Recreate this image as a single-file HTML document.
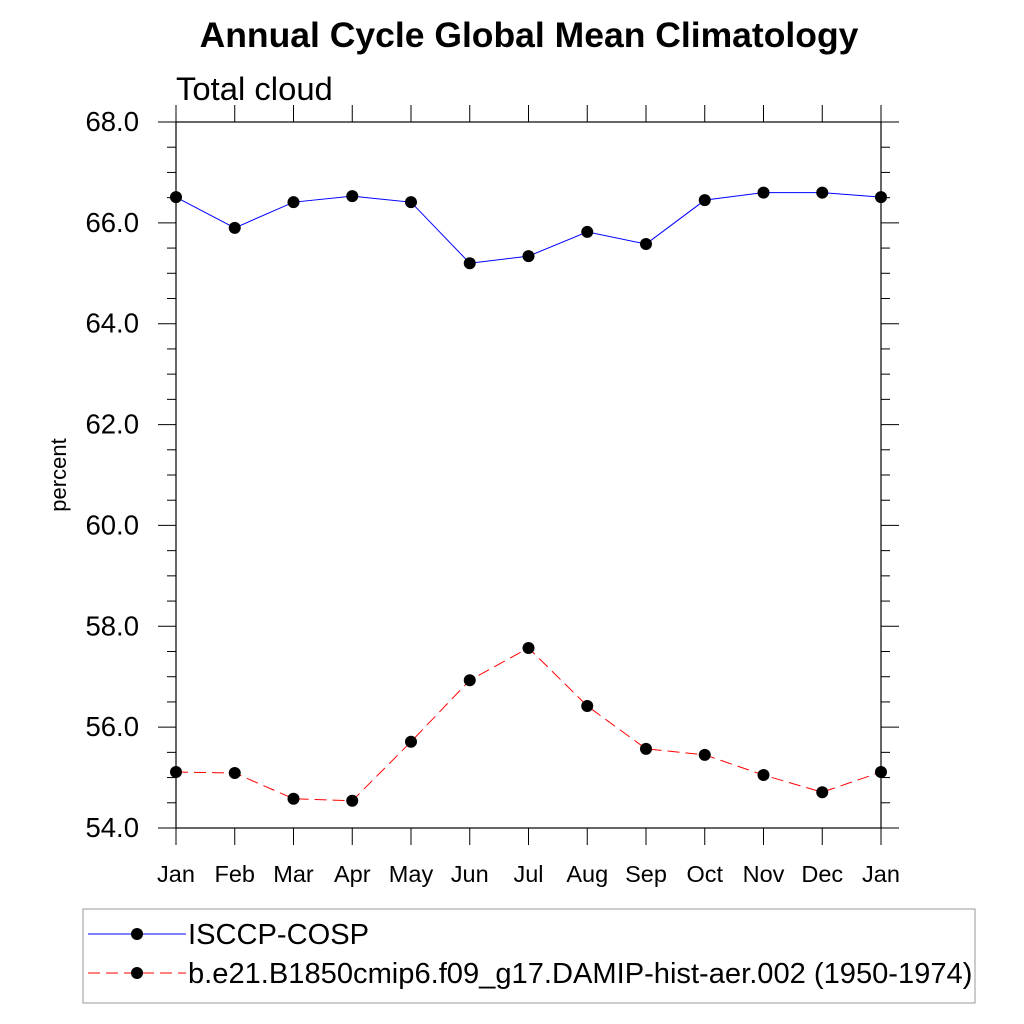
<!DOCTYPE html>
<html><head><meta charset="utf-8"><style>
body{margin:0;background:#fff;}
svg{display:block;font-family:"Liberation Sans",sans-serif;}
</style></head><body>
<svg id="chart" width="1024" height="1024" viewBox="0 0 1024 1024">
<text x="529" y="47" text-anchor="middle" font-size="35.5" font-weight="bold">Annual Cycle Global Mean Climatology</text>
<text x="176" y="100" font-size="32.8">Total cloud</text>
<text transform="translate(66,475) rotate(-90)" text-anchor="middle" font-size="22">percent</text>
<g id="axes"></g>
<g id="series"></g>
<rect x="83" y="909" width="892" height="94" fill="none" stroke="#999" stroke-width="1"/>
<g>
<line x1="88" y1="934" x2="186" y2="934" stroke="#00f" stroke-width="1"/>
<circle cx="137" cy="934" r="6" fill="#000"/>
<text x="188" y="944" font-size="29.1">ISCCP-COSP</text>
</g>
<g>
<line x1="88" y1="973" x2="186" y2="973" stroke="#f00" stroke-width="1" stroke-dasharray="12,6"/>
<circle cx="137" cy="973" r="6" fill="#000"/>
<text x="188" y="983" font-size="29.1">b.e21.B1850cmip6.f09_g17.DAMIP-hist-aer.002 (1950-1974)</text>
</g>
</svg>
<script>
const months = ["Jan","Feb","Mar","Apr","May","Jun","Jul","Aug","Sep","Oct","Nov","Dec","Jan"];
const isccp = [66.51,65.9,66.41,66.53,66.41,65.2,65.34,65.82,65.58,66.45,66.6,66.6,66.51];
const model = [55.11,55.09,54.58,54.54,55.71,56.93,57.57,56.42,55.57,55.45,55.05,54.71,55.11];
const yTicks = [54,56,58,60,62,64,66,68];
const NS="http://www.w3.org/2000/svg";
const L=176,R=881,T=122,B=828,ymin=54,ymax=68;
function xs(i){return L+(R-L)*i/(months.length-1);}
function ys(v){return B-(v-ymin)/(ymax-ymin)*(B-T);}
function mk(tag,attrs,parent){const e=document.createElementNS(NS,tag);for(const k in attrs)e.setAttribute(k,attrs[k]);parent.appendChild(e);return e;}
const ax=document.getElementById('axes');
const frame=mk('rect',{x:L,y:T,width:R-L,height:B-T,fill:'none',stroke:'#000','stroke-width':1.2},ax);


for(let v=ymin;v<=ymax+1e-9;v+=0.5){
  const y=ys(v);const major=Math.abs(v-Math.round(v/2)*2)<1e-6;const len=major?18:9;
  mk('line',{x1:L-len,y1:y,x2:L,y2:y,stroke:'#000','stroke-width':1},ax);
  mk('line',{x1:R,y1:y,x2:R+len,y2:y,stroke:'#000','stroke-width':1},ax);
}
yTicks.forEach(v=>{
  const t=mk('text',{x:L-37,y:ys(v)+9,'text-anchor':'end','font-size':27.5},ax);
  t.textContent=v.toFixed(1);
  
  
});
months.forEach((m,i)=>{
  const x=xs(i);
  mk('line',{x1:x,y1:B,x2:x,y2:B+17,stroke:'#000','stroke-width':1},ax);
  mk('line',{x1:x,y1:T,x2:x,y2:T-17,stroke:'#000','stroke-width':1},ax);
  const t=mk('text',{x:x,y:882,'text-anchor':'middle','font-size':23.5},ax);
  t.textContent=m;
  
  
});
const sg=document.getElementById('series');
function draw(vals,color,dash,name){
  const pts=vals.map((v,i)=>xs(i)+','+ys(v)).join(' ');
  const pl=mk('polyline',{points:pts,fill:'none',stroke:color,'stroke-width':1,'stroke-dasharray':dash},sg);
  
  
  vals.forEach((v,i)=>{
    const c=mk('circle',{cx:xs(i),cy:ys(v),r:6,fill:'#000'},sg);
    
    
  });
}
draw(isccp,'#00f','none','isccp');
draw(model,'#f00','12,6','model');
</script>
</body></html>
